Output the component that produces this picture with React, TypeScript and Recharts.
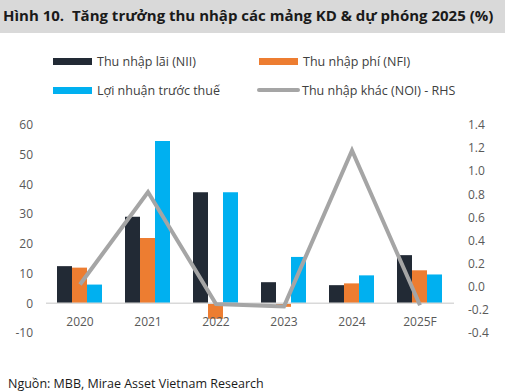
import React from 'react';
import { ComposedChart, Bar, Line, XAxis, YAxis, ReferenceLine } from 'recharts';

const categories = ['2020', '2021', '2022', '2023', '2024', '2025F'];
const nii = [12.5, 29.1, 37.4, 7.1, 6.1, 16.2];
const nfi = [12.0, 22.0, -5.2, -1.2, 6.7, 11.1];
const pbt = [6.3, 54.6, 37.4, 15.6, 9.4, 9.7];
const noi = [0.02, 0.82, -0.15, -0.17, 1.18, -0.16];
const leftTicks = [-10, 0, 10, 20, 30, 40, 50, 60];
const rightTicks = [-0.4, -0.2, 0, 0.2, 0.4, 0.6, 0.8, 1.0, 1.2, 1.4];

const data = categories.map((c, i) => ({ cat: c, nii: nii[i], nfi: nfi[i], pbt: pbt[i], noi: noi[i] }));

const FONT = '"Open Sans", "Noto Sans", sans-serif';
const C_NII = '#222A35';
const C_NFI = '#ED7D31';
const C_PBT = '#00B0F0';
const C_NOI = '#A5A5A5';

const XTick = (props: any) => {
  const { x, y, payload } = props;
  return (
    <text x={x} y={y - 7} textAnchor="middle" fontSize={12} fill="#595959" fontFamily={FONT}>
      {payload.value}
    </text>
  );
};

const LegendItem = ({ left, top, color, label, line }: any) => (
  <div style={{ position: 'absolute', left, top, display: 'flex', alignItems: 'center', height: 16 }}>
    <div
      style={{
        width: line ? 43 : 39,
        height: line ? 4 : 7,
        background: color,
        borderRadius: line ? 2 : 0,
        marginRight: line ? 2 : 5,
      }}
    />
    <span style={{ fontSize: 12.5, color: '#404040', fontFamily: FONT, whiteSpace: 'nowrap' }}>{label}</span>
  </div>
);

export default function App() {
  return (
    <div style={{ position: 'absolute', left: 0, top: 0, width: 505, height: 392, background: '#fff', overflow: 'hidden' }}>
      <div
        style={{
          position: 'absolute',
          left: 0,
          top: 0,
          width: 505,
          height: 33,
          background: '#D9D9D9',
        }}
      />
      <div
        style={{
          position: 'absolute',
          left: 3,
          top: 5,
          fontFamily: FONT,
          fontWeight: 700,
          fontSize: 15,
          color: '#1a1a1a',
          whiteSpace: 'nowrap',
          letterSpacing: 0,
        }}
      >
        Hình 10.&nbsp; Tăng trưởng thu nhập các mảng KD &amp; dự phóng 2025 (%)
      </div>
      <LegendItem left={53} top={53} color={C_NII} label="Thu nhập lãi (NII)" />
      <LegendItem left={259} top={53} color={C_NFI} label="Thu nhập phí (NFI)" />
      <LegendItem left={53} top={82} color={C_PBT} label="Lợi nhuận trước thuế" />
      <LegendItem left={257} top={82} color={C_NOI} label="Thu nhập khác (NOI) - RHS" line />
      <div style={{ position: 'absolute', left: 0, top: 0 }}>
        <ComposedChart
          width={505}
          height={363}
          data={data}
          margin={{ top: 125, right: 0, bottom: 0, left: 0 }}
          barCategoryGap={11}
          barGap={0}
        >
          <XAxis
            dataKey="cat"
            axisLine={false}
            tickLine={false}
            tickSize={0}
            tickMargin={0}
            height={30}
            tick={<XTick />}
            interval={0}
          />
          <YAxis
            yAxisId="left"
            orientation="left"
            domain={[-10, 60]}
            ticks={leftTicks}
            width={46}
            axisLine={false}
            tickLine={false}
            tickSize={0}
            tickMargin={13}
            tick={{ fontSize: 12, fill: '#595959', fontFamily: FONT }}
            interval={0}
          />
          <YAxis
            yAxisId="right"
            orientation="right"
            domain={[-0.4, 1.4]}
            ticks={rightTicks}
            width={51}
            axisLine={false}
            tickLine={false}
            tickSize={0}
            tickMargin={14}
            tickFormatter={(v: number) => v.toFixed(1)}
            tick={{ fontSize: 12, fill: '#595959', fontFamily: FONT, textAnchor: 'start' }}
            interval={0}
          />
          <ReferenceLine yAxisId="left" y={0} stroke="#D9D9D9" strokeWidth={1.5} />
          <Bar yAxisId="left" dataKey="nii" fill={C_NII} isAnimationActive={false} />
          <Bar yAxisId="left" dataKey="nfi" fill={C_NFI} isAnimationActive={false} />
          <Bar yAxisId="left" dataKey="pbt" fill={C_PBT} isAnimationActive={false} />
          <Line
            yAxisId="right"
            dataKey="noi"
            stroke={C_NOI}
            strokeWidth={4}
            dot={false}
            type="linear"
            isAnimationActive={false}
          />
        </ComposedChart>
      </div>
      <div
        style={{
          position: 'absolute',
          left: 8,
          top: 375,
          fontFamily: FONT,
          fontSize: 12.5,
          color: '#1a1a1a',
          whiteSpace: 'nowrap',
        }}
      >
        Nguồn: MBB, Mirae Asset Vietnam Research
      </div>
    </div>
  );
}
